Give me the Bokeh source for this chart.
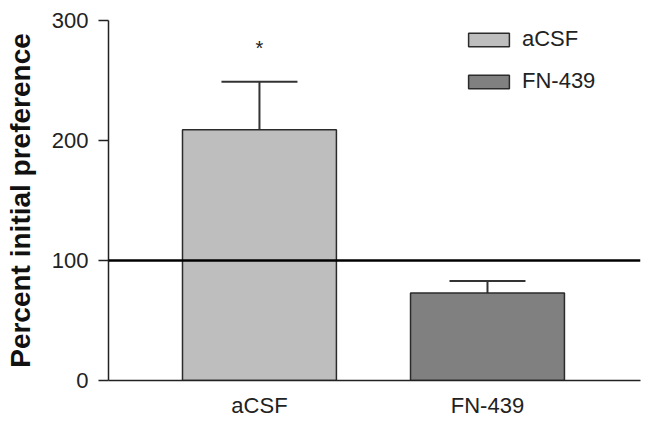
from bokeh.plotting import figure
from bokeh.models import (ColumnDataSource, FixedTicker, Span, Whisker, Legend,
                          LegendItem, TeeHead)
from bokeh.core.properties import value
from bokeh.embed import file_html
from bokeh.resources import INLINE

# ---- data ----
groups = ["aCSF", "FN-439"]
means = [209, 73]
sems = [40, 10]
signif = ["*", ""]
baseline = 100
y_ticks = [0, 100, 200, 300]
bar_colors = ["#bdbebd", "#7f807f"]

xs = [i + 1 for i in range(len(groups))]
upper = [m + s for m, s in zip(means, sems)]
lower = list(means)

src = ColumnDataSource(dict(x=xs, top=means, upper=upper, lower=lower,
                            group=groups, color=bar_colors, sig=signif))

FONT = "Liberation Sans"

p = figure(width=652, height=427, output_backend="svg", toolbar_location=None,
           x_range=(0.338, 2.671), y_range=(0, 300),
           min_border_left=108, min_border_top=20, min_border_right=12,
           min_border_bottom=47)
p.outline_line_color = None
p.grid.visible = False
p.background_fill_color = "white"
p.border_fill_color = "white"

# bars
bars = p.vbar(x="x", top="top", width=0.675, bottom=0, source=src,
              fill_color="color", line_color="#2b2b2b", line_width=1.5)

# error bars (upper only)
wh = Whisker(base="x", upper="upper", lower="lower", source=src,
             line_color="#333333", line_width=2,
             upper_head=TeeHead(size=76, line_color="#333333", line_width=2),
             lower_head=None)
p.add_layout(wh)

# baseline at 100%
p.add_layout(Span(location=baseline, dimension="width", line_color="black",
                  line_width=2.5))

# significance marker
p.text(x="x", y="upper", text="sig", source=src, text_align="center",
       text_baseline="bottom", y_offset=-23, text_font=value(FONT),
       text_font_size="20px", text_color="#222222")

# y axis
ya = p.yaxis[0]
ya.ticker = FixedTicker(ticks=y_ticks)
ya.minor_tick_line_color = None
ya.major_tick_out = 10
ya.major_tick_in = 0
ya.axis_line_color = "#222222"
ya.axis_line_width = 1.5
ya.major_tick_line_color = "#222222"
ya.major_tick_line_width = 1.5
ya.major_label_text_font = FONT
ya.major_label_text_font_size = "22px"
ya.major_label_text_color = "#222222"
ya.major_label_standoff = 10
ya.axis_label = "Percent initial preference"
ya.axis_label_text_font = FONT
ya.axis_label_text_font_size = "28px"
ya.axis_label_text_font_style = "bold"
ya.axis_label_text_color = "#111111"
ya.axis_label_standoff = 13

# x axis
xa = p.xaxis[0]
xa.ticker = FixedTicker(ticks=xs)
xa.major_label_overrides = {x: g for x, g in zip(xs, groups)}
xa.minor_tick_line_color = None
xa.major_tick_out = 0
xa.major_tick_in = 0
xa.axis_line_color = "#222222"
xa.axis_line_width = 1.5
xa.major_label_text_font = FONT
xa.major_label_text_font_size = "22px"
xa.major_label_text_color = "#222222"
xa.major_label_standoff = 12

# legend
items = [LegendItem(label=g, renderers=[bars], index=i) for i, g in enumerate(groups)]
leg = Legend(items=items, location=(355, 286), orientation="vertical",
             glyph_width=51, glyph_height=17, label_text_font=FONT,
             label_text_font_size="22px", label_text_color="#222222",
             label_standoff=8, spacing=16, padding=0, margin=0,
             background_fill_alpha=0, border_line_alpha=0)
p.add_layout(leg, "center")

open("out.html", "w").write(file_html(p, INLINE))
